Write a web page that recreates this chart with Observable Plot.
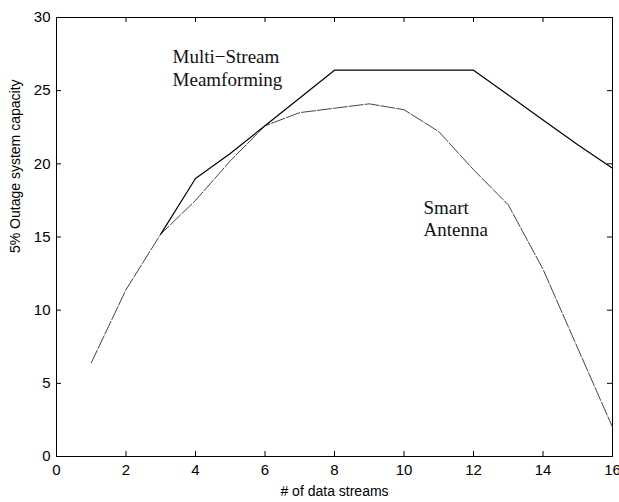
<!DOCTYPE html>
<html>
<head>
<meta charset="utf-8">
<script src="https://cdn.jsdelivr.net/npm/d3@7"></script>
<script src="https://cdn.jsdelivr.net/npm/@observablehq/plot@0.6"></script>
<style>
  body { margin: 0; background: #fff; }
  svg { display: block; }
</style>
</head>
<body>
<div id="chart"></div>
<script>
const multiX = [3, 4, 5, 6, 7, 8, 9, 10, 11, 12, 13, 14, 15, 16];
const multiY = [15.2, 19.0, 20.7, 22.6, 24.5, 26.4, 26.4, 26.4, 26.4, 26.4, 24.7, 23.0, 21.3, 19.7];
const smartX = [1, 2, 3, 4, 5, 6, 7, 8, 9, 10, 11, 12, 13, 14, 15, 16];
const smartY = [6.4, 11.4, 15.2, 17.5, 20.2, 22.6, 23.5, 23.8, 24.1, 23.7, 22.2, 19.6, 17.2, 12.8, 7.4, 2.0];
const xTicks = [0, 2, 4, 6, 8, 10, 12, 14, 16];
const yTicks = [0, 5, 10, 15, 20, 25, 30];
const labelText = ["Multi\u2212Stream", "Meamforming", "Smart", "Antenna"];
const labelX = [3.34, 3.34, 10.56, 10.56];
const labelY = [26.9, 25.3, 16.6, 15.1];
const xTitle = "# of data streams";
const yTitle = "5% Outage system capacity";

const multi = multiX.map((x, i) => ({x, y: multiY[i]}));
const smart = smartX.map((x, i) => ({x, y: smartY[i]}));
const labels = labelText.map((t, i) => ({t, x: labelX[i], y: labelY[i]}));

const W = 619, H = 502, ML = 56, MR = 7, MT = 17, MB = 46;
const innerW = W - ML - MR, innerH = H - MT - MB;
const tick = 5;
const sans = "Liberation Sans, Arial, sans-serif";

const chart = Plot.plot({
  width: W,
  height: H,
  marginLeft: ML,
  marginRight: MR,
  marginTop: MT,
  marginBottom: MB,
  style: {background: "#fff", color: "#000", fontFamily: sans, fontSize: "14px"},
  x: {domain: [0, 16]},
  y: {domain: [0, 30]},
  marks: [
    Plot.frame({stroke: "#000", strokeWidth: 1}),
    Plot.axisX(xTicks, {anchor: "bottom", tickSize: 0, tickPadding: 8, fontSize: 15, fontFamily: sans, label: null}),
    Plot.axisY(yTicks, {anchor: "left", tickSize: 0, tickPadding: 6, fontSize: 15, fontFamily: sans, label: null}),
    Plot.ruleX(xTicks, {x: d => d, insetTop: innerH - tick, stroke: "#000"}),
    Plot.ruleX(xTicks, {x: d => d, insetBottom: innerH - tick, stroke: "#000"}),
    Plot.ruleY(yTicks, {y: d => d, insetRight: innerW - tick, stroke: "#000"}),
    Plot.ruleY(yTicks, {y: d => d, insetLeft: innerW - tick, stroke: "#000"}),
    Plot.text([xTitle], {frameAnchor: "bottom", dy: 39, text: d => d, fontSize: 14, fontFamily: sans, fill: "#000"}),
    Plot.text([yTitle], {frameAnchor: "left", rotate: -90, dx: -41, dy: 16, text: d => d, fontSize: 14, fontFamily: sans, fill: "#000"}),
    Plot.line(smart, {x: "x", y: "y", stroke: "#444", strokeWidth: 1, strokeDasharray: "14,2"}),
    Plot.line(multi, {x: "x", y: "y", stroke: "#000", strokeWidth: 1.2}),
    Plot.text(labels, {x: "x", y: "y", text: "t", textAnchor: "start", lineAnchor: "bottom", fontSize: 19, fontFamily: "Liberation Serif, Times New Roman, serif", fill: "#111"})
  ]
});
document.getElementById("chart").appendChild(chart);
</script>
</body>
</html>
